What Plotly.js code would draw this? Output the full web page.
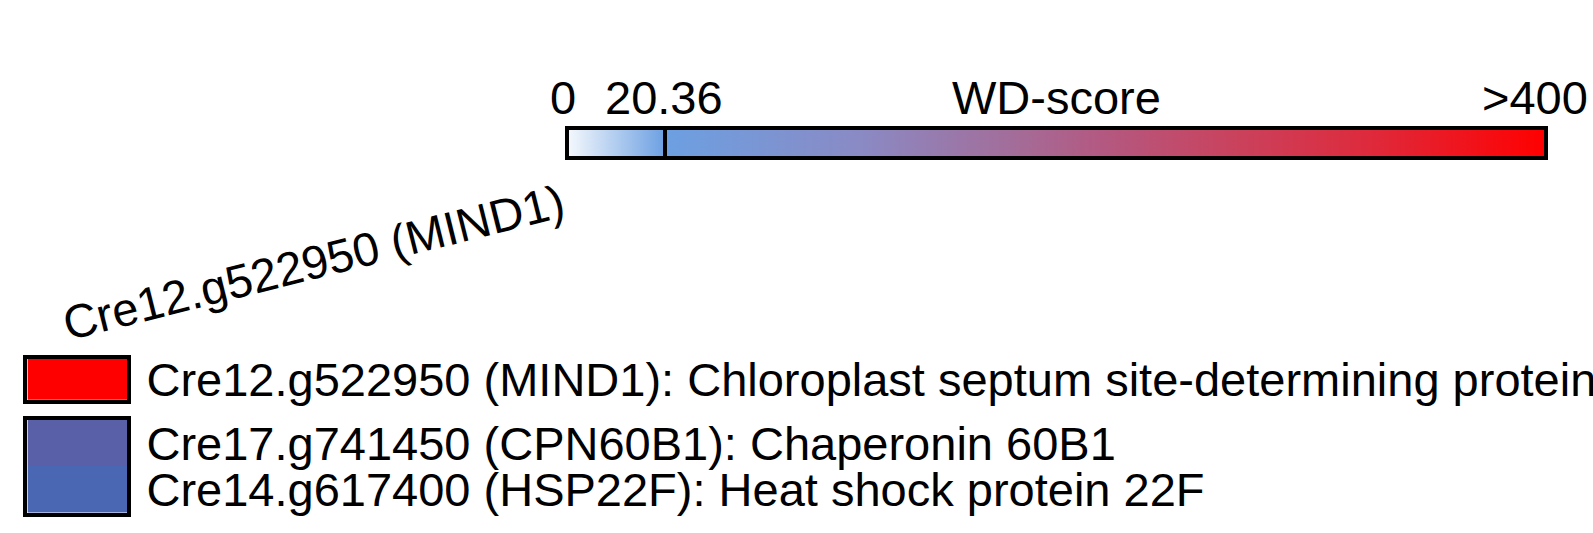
<!DOCTYPE html>
<html>
<head>
<meta charset="utf-8">
<script src="https://cdn.plot.ly/plotly-3.0.1.min.js"></script>
<style>
  html, body { margin: 0; padding: 0; background: #fff; overflow: hidden; }
</style>
</head>
<body>
<div id="chart"></div>
<script>
// Column (bait) and rows (preys), grouped as in the figure
var columnLabel = 'Cre12.g522950 (MIND1)';
var topRows = ['Cre12.g522950 (MIND1): Chloroplast septum site-determining protein'];
var topScores = [400];
var bottomRows = ['Cre17.g741450 (CPN60B1): Chaperonin 60B1',
                  'Cre14.g617400 (HSP22F): Heat shock protein 22F'];
var bottomScores = [92, 30];

// Colour bar ticks
var barTicks = [0, 20.36, 400];
var barTickText = ['0', '20.36', '>400'];
var barTitle = 'WD-score';

var FONT = 'Arial, "Liberation Sans", sans-serif';
var FSIZE = 47;
var threshold = 20.36, maxScore = 400;

// piecewise position on the bar: threshold sits at 10%
function toBar(s) {
    s = Math.min(s, maxScore);
    if (s <= threshold) return 0.1 * s / threshold;
    return 0.1 + 0.9 * (s - threshold) / (maxScore - threshold);
}

var barScale = [
    [0, '#f6f9fd'], [0.1, '#6ca0e2'], [0.3, '#8a8ac4'], [0.46, '#a46c98'],
    [0.55, '#b45880'], [0.67, '#c84460'], [0.82, '#de2a3c'], [1, '#ff0000']
];
var cellScale = [
    [0, '#f6f9fd'], [0.1, '#4868b6'], [0.3, '#5c5ea4'],
    [0.55, '#b45880'], [1, '#ff0000']
];

// positions below are measured in a 1593x533 frame; the page is drawn a bit larger
var W = 1593, H = 533;
var barPxLeft = 560, barPxWidth = 959;   // inner edges of the bar
var labelShift = [-6, -3, -9];

var topTrace = {
    type: 'heatmap',
    x: [columnLabel],
    y: topRows,
    z: topScores.map(function (s) { return [toBar(s)]; }),
    xaxis: 'x', yaxis: 'y',
    zmin: 0, zmax: 1,
    colorscale: barScale,
    hoverinfo: 'skip',
    colorbar: {
        orientation: 'h',
        x: 1039.5 / W, xanchor: 'center',
        y: 1 - 126 / H, yanchor: 'top',
        len: 963 / W, lenmode: 'fraction',
        thickness: 30,
        xpad: 0, ypad: 0,
        outlinewidth: 4, outlinecolor: '#000',
        tickmode: 'array',
        tickvals: [toBar(threshold)],
        ticks: 'inside', ticklen: 30, tickwidth: 4, tickcolor: '#000',
        showticklabels: false
    }
};

var bottomTrace = {
    type: 'heatmap',
    x: [columnLabel],
    y: bottomRows,
    z: bottomScores.map(function (s) { return [toBar(s)]; }),
    xaxis: 'x2', yaxis: 'y2',
    zmin: 0, zmax: 1,
    colorscale: cellScale,
    showscale: false,
    hoverinfo: 'skip'
};

var xDom = [27 / W, 125 / W];
var axLine = { showline: true, mirror: true, linewidth: 4, linecolor: '#000',
               showgrid: false, zeroline: false, fixedrange: true };
var tickFont = { family: FONT, size: FSIZE, color: '#000' };

var annotations = barTicks.map(function (v, i) {
    return {
        xref: 'paper', yref: 'paper',
        x: (barPxLeft + toBar(v) * barPxWidth) / W, y: 1 - 96 / H,
        xanchor: 'center', yanchor: 'middle', xshift: labelShift[i],
        text: barTickText[i], showarrow: false,
        font: tickFont
    };
});
annotations.push({
    xref: 'paper', yref: 'paper',
    x: (barPxLeft + barPxWidth / 2) / W, y: 1 - 96 / H,
    xanchor: 'center', yanchor: 'middle',
    text: barTitle, showarrow: false,
    font: tickFont
});

var layout = {
    width: 1619, height: 542,
    margin: { l: 0, r: 0, t: 0, b: 0, autoexpand: false },
    paper_bgcolor: '#fff', plot_bgcolor: '#fff',
    showlegend: false,
    font: { family: FONT, size: FSIZE, color: '#000' },
    xaxis: Object.assign({}, axLine, {
        domain: xDom, anchor: 'y', side: 'top',
        tickangle: -14, ticks: '', ticklabelstandoff: -5, ticklabelshift: -15,
        tickfont: tickFont
    }),
    yaxis: Object.assign({}, axLine, {
        domain: [1 - 393 / H, 1 - 353 / H], anchor: 'x', side: 'right',
        tickmode: 'array', tickvals: topRows, ticktext: topRows,
        ticks: '', ticklabelstandoff: 6,
        tickfont: tickFont
    }),
    xaxis2: Object.assign({}, axLine, {
        domain: xDom, anchor: 'y2', showticklabels: false, ticks: ''
    }),
    yaxis2: Object.assign({}, axLine, {
        domain: [1 - 504 / H, 1 - 413 / H], anchor: 'x2', side: 'right',
        autorange: 'reversed',
        tickmode: 'array', tickvals: bottomRows, ticktext: bottomRows,
        ticks: '', ticklabelstandoff: 6,
        tickfont: tickFont
    }),
    annotations: annotations
};

Plotly.newPlot('chart', [topTrace, bottomTrace], layout, { displayModeBar: false, staticPlot: true });
</script>
</body>
</html>
